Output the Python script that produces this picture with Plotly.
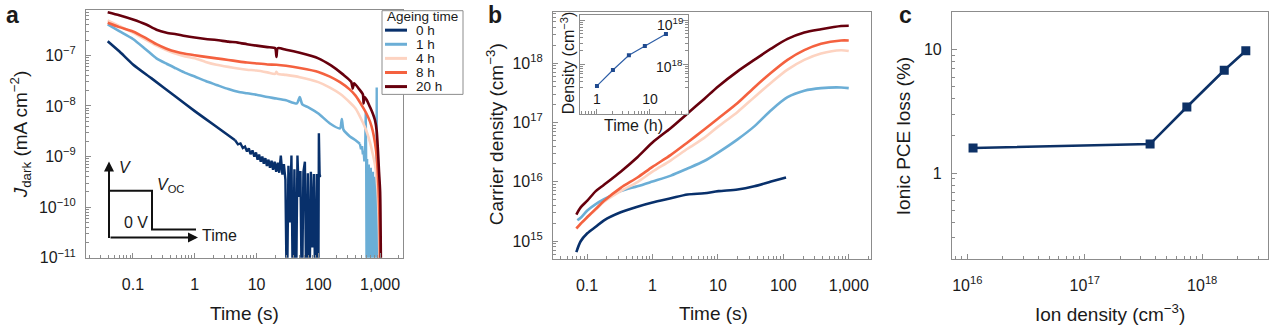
import plotly.graph_objects as go

W, H = 1269, 333

AGEING = ["0 h", "1 h", "4 h", "8 h", "20 h"]
COLORS = ["#08306b", "#6baed6", "#fdd3c1", "#f4613f", "#67000d"]

# ---- panel a: dark current after switching from Voc to 0 V ----
ta_0h = [0.039, 0.06, 0.1, 0.2, 0.5, 1, 2, 4.5]
ja_0h = [1.9e-7, 1.2e-7, 6.6e-8, 3.5e-8, 1.5e-8, 7.9e-9, 4.3e-9, 2.1e-9]
ta_0h_noisy = [4.5, 5, 5.5, 6, 6.5, 7, 7.5, 8, 8.6, 9.2, 9.8, 10.4, 11, 11.7, 12.4, 13.1, 13.9,
               14.7, 15.6, 16.5, 17.5, 18.5, 19.6, 20.8, 22, 23.3, 24.7, 26.2, 27.7, 29.3, 31,
               32.8, 34.7, 36.7, 38.8, 41, 43.4, 45.9, 48.5, 51.3, 54.2, 57.3, 60.6, 64, 67.7,
               71.6, 75.7, 80, 84.6, 89.4, 94.5, 99.9, 102, 105, 108, 110]
ja_0h_noisy = [2.1e-9, 1.74e-9, 1.82e-9, 1.48e-9, 1.58e-9, 1.26e-9, 1.45e-9, 1.12e-9, 1.32e-9,
               1.0e-9, 1.2e-9, 8.7e-10, 1.1e-9, 7.9e-10, 1.0e-9, 7.2e-10, 9.3e-10, 6.5e-10,
               8.7e-10, 6.0e-10, 8.3e-10, 5.5e-10, 7.9e-10, 5.0e-10, 7.6e-10, 4.8e-10, 1.05e-9,
               4.4e-10, 7.1e-10, 3.5e-10, 1e-12, 6.6e-10, 5e-11, 1.05e-9, 1e-12, 5.6e-10, 1e-12,
               1.05e-9, 1.6e-10, 5.2e-10, 1e-12, 5.0e-10, 7.9e-10, 1e-12, 4.7e-10, 1e-12, 5.0e-10,
               1.6e-11, 4.5e-10, 1e-12, 4.5e-10, 1e-12, 2.9e-9, 4e-10, 4.3e-10, 4.3e-10]

ta_1h = [0.039, 0.06, 0.1, 0.16, 0.24, 0.35, 0.5, 0.7, 1, 1.5, 2.25, 3.5, 5, 7, 10, 15, 21, 30,
         45, 50, 55, 70, 100, 154, 224, 240, 255, 324, 400, 470]
ja_1h = [4.1e-7, 3.0e-7, 2.1e-7, 1.32e-7, 8.7e-8, 6.8e-8, 5.5e-8, 4.5e-8, 3.8e-8, 3.1e-8, 2.6e-8,
         2.15e-8, 1.9e-8, 1.78e-8, 1.66e-8, 1.5e-8, 1.4e-8, 1.29e-8, 1.12e-8, 1.5e-8, 1.07e-8,
         9.3e-9, 7.1e-9, 4.5e-9, 3.6e-9, 5.5e-9, 3.4e-9, 2.5e-9, 2.1e-9, 1.8e-9]
ta_1h_noisy = [470, 490, 510, 525, 540, 555, 570, 585, 595, 605, 615, 625, 635, 645, 655, 665,
               675, 690, 705, 720, 735, 750, 765, 780, 795, 810, 825, 840, 855, 870, 880, 890,
               905, 920, 940, 960, 980, 1000]
ja_1h_noisy = [1.8e-9, 1.4e-9, 1.6e-9, 1.1e-9, 1.3e-9, 8e-10, 1.1e-9, 7.5e-9, 7e-10, 1e-12,
               9e-10, 1e-12, 6e-10, 3e-11, 7e-10, 1e-12, 5e-10, 1e-12, 6e-10, 1e-11, 4e-10, 1e-12,
               5e-10, 1e-12, 3e-10, 2e-11, 4e-10, 1e-12, 2.5e-10, 1e-12, 2.3e-8, 1e-12, 2e-10,
               1e-12, 1e-10, 1e-12, 5e-11, 1e-12]

ta_4h = [0.039, 0.06, 0.1, 0.16, 0.24, 0.35, 0.5, 0.7, 1, 1.5, 2.25, 3.5, 5, 7, 10, 15, 20, 21,
         22, 30, 50, 100, 154, 224, 324, 400, 525, 600, 686, 760, 826, 880, 920, 960, 1000]
ja_4h = [4.9e-7, 3.8e-7, 2.8e-7, 2.05e-7, 1.55e-7, 1.26e-7, 1.07e-7, 9.5e-8, 8.7e-8, 7.4e-8,
         6.5e-8, 5.9e-8, 5.5e-8, 5.2e-8, 5.0e-8, 4.6e-8, 4.3e-8, 4.7e-8, 4.3e-8, 4.1e-8, 3.7e-8,
         2.95e-8, 2.3e-8, 1.74e-8, 1.17e-8, 8.9e-9, 4.7e-9, 3.2e-9, 1.9e-9, 1.12e-9, 6.8e-10,
         3.5e-10, 1.6e-10, 3.2e-11, 1e-12]

ta_8h = [0.039, 0.06, 0.1, 0.16, 0.24, 0.35, 0.5, 0.7, 1, 1.5, 2.25, 3.5, 5, 7, 10, 15, 21, 30,
         50, 100, 154, 224, 324, 400, 525, 600, 686, 760, 826, 880, 920, 960, 990, 1010]
ja_8h = [4.4e-7, 3.6e-7, 2.95e-7, 2.2e-7, 1.66e-7, 1.35e-7, 1.17e-7, 1.07e-7, 1.0e-7, 9.3e-8,
         8.7e-8, 8.1e-8, 7.6e-8, 7.2e-8, 6.9e-8, 6.6e-8, 6.5e-8, 6.2e-8, 5.6e-8, 4.7e-8, 3.8e-8,
         2.95e-8, 2.1e-8, 1.6e-8, 9.5e-9, 7.1e-9, 4.9e-9, 3.2e-9, 1.86e-9, 1.0e-9, 4.3e-10,
         1.26e-10, 2.5e-11, 1e-12]

ta_20h = [0.039, 0.06, 0.1, 0.16, 0.24, 0.35, 0.5, 0.7, 1, 1.5, 2.25, 3.5, 5, 7, 10, 15, 20, 21,
          22, 30, 50, 100, 160, 250, 340, 360, 380, 450, 525, 540, 560, 600, 686, 760, 826, 880,
          920, 960, 1000, 1040]
ja_20h = [7.1e-7, 6.2e-7, 5.1e-7, 4.1e-7, 3.2e-7, 2.8e-7, 2.6e-7, 2.4e-7, 2.24e-7, 2.1e-7, 2.0e-7,
          1.86e-7, 1.78e-7, 1.66e-7, 1.55e-7, 1.45e-7, 1.38e-7, 9.3e-8, 1.38e-7, 1.29e-7, 1.12e-7,
          8.7e-8, 6.3e-8, 4.2e-8, 3.0e-8, 2.2e-8, 2.8e-8, 2.2e-8, 1.7e-8, 1.12e-8, 1.5e-8, 1.35e-8,
          9.5e-9, 7.1e-9, 5.2e-9, 3.2e-9, 1.4e-9, 5e-10, 2e-10, 1e-12]

# ---- panel b: extracted carrier density ----
tb_0h = [0.0687, 0.08, 0.101, 0.136, 0.182, 0.327, 0.589, 1, 1.91, 3.43, 6.18, 10.2, 20, 36,
         65, 110]
nb_0h = [6.5e14, 9.9e14, 1.35e15, 1.74e15, 2.24e15, 3.06e15, 3.8e15, 4.47e15, 5.26e15, 6.1e15,
         6.4e15, 6.95e15, 7.4e15, 8.4e15, 1.01e16, 1.18e16]
tb_1h = [0.0711, 0.08, 0.101, 0.136, 0.182, 0.327, 0.589, 1, 1.91, 3.43, 6.18, 10.2, 20, 36,
         65, 116, 209, 377, 763, 1000]
nb_1h = [2.24e15, 2.47e15, 3.27e15, 4.2e15, 5.07e15, 6.95e15, 8.4e15, 1.01e16, 1.27e16, 1.67e16,
         2.24e16, 3.14e16, 5.2e16, 8.6e16, 1.61e17, 2.67e17, 3.44e17, 3.8e17, 3.9e17, 3.8e17]
tb_4h = [0.0687, 0.08, 0.101, 0.136, 0.182, 0.327, 0.589, 1, 1.91, 3.43, 6.18, 10.2, 20, 36,
         65, 116, 209, 377, 763, 1000]
nb_4h = [1.6e15, 1.93e15, 2.5e15, 3.4e15, 4.6e15, 6.95e15, 9.9e15, 1.48e16, 2.3e16, 3.6e16,
         5.5e16, 8.6e16, 1.51e17, 2.67e17, 4.7e17, 7.8e17, 1.14e18, 1.46e18, 1.66e18, 1.61e18]
tb_8h = [0.0687, 0.08, 0.101, 0.136, 0.182, 0.327, 0.589, 1, 1.91, 3.43, 6.18, 10.2, 20, 36,
         65, 116, 209, 377, 763, 1000]
nb_8h = [1.63e15, 1.97e15, 2.54e15, 3.48e15, 4.76e15, 7.9e15, 1.18e16, 1.78e16, 2.84e16, 4.6e16,
         7.6e16, 1.18e17, 2.13e17, 3.9e17, 6.9e17, 1.14e18, 1.66e18, 2.13e18, 2.42e18, 2.42e18]
tb_20h = [0.0687, 0.08, 0.101, 0.136, 0.182, 0.327, 0.589, 1, 1.91, 3.43, 6.18, 10.2, 20, 36,
          65, 116, 209, 377, 763, 1000]
nb_20h = [2.8e15, 3.7e15, 4.8e15, 6.95e15, 8.9e15, 1.48e16, 2.6e16, 4.6e16, 8.1e16, 1.42e17,
          2.5e17, 4.1e17, 7.3e17, 1.14e18, 1.76e18, 2.57e18, 3.3e18, 3.75e18, 4.25e18, 4.3e18]

# inset: final density versus ageing time
inset_hours = [1, 2, 4, 8, 20]
inset_density = [3.2e17, 7.4e17, 1.6e18, 2.6e18, 4.9e18]

# ---- panel c ----
ion_density = [1.12e16, 3.6e17, 7.4e17, 1.54e18, 2.35e18]
pce_loss = [1.6, 1.72, 3.43, 6.8, 9.8]

FONT = "Liberation Sans, Arial, Helvetica, sans-serif"
TXT = "#1a1a1a"
GRAY = "#8c8c8c"
TICK_SIZE = 16
TITLE_SIZE = 19


def fx(px):
    return px / W


def fy(py):
    return 1 - py / H


def sup(e):
    sign = "\u2212" if e < 0 else ""
    return f"10<sup>{sign}{abs(e)}</sup>"


def minor_vals(lo, hi):
    return [m * 10.0 ** e for e in range(lo, hi) for m in range(2, 10)]


def log_axis(domain, rng, tickvals, ticktext, minor, anchor, standoff, **kw):
    d = dict(
        type="log", domain=domain, range=rng, anchor=anchor,
        showline=True, linecolor=GRAY, linewidth=1.2, mirror=True,
        ticks="inside", ticklen=5, tickwidth=1, tickcolor=GRAY,
        showgrid=False, zeroline=False,
        tickmode="array", tickvals=tickvals, ticktext=ticktext,
        tickfont=dict(size=TICK_SIZE, color=TXT, family=FONT),
        ticklabelstandoff=standoff,
        minor=dict(ticks="inside", ticklen=3, tickwidth=1, tickcolor=GRAY,
                   tickmode="array", tickvals=minor, showgrid=False),
    )
    d.update(kw)
    return d


fig = go.Figure()

a_series = [
    (ta_0h, ja_0h, ta_0h_noisy, ja_0h_noisy),
    (ta_1h, ja_1h, ta_1h_noisy, ja_1h_noisy),
    (ta_4h, ja_4h, None, None),
    (ta_8h, ja_8h, None, None),
    (ta_20h, ja_20h, None, None),
]
for (t, j, tn, jn), c, name in zip(a_series, COLORS, AGEING):
    fig.add_trace(go.Scatter(x=t, y=j, mode="lines", name=name, showlegend=False,
                             line=dict(color=c, width=2.6, shape="spline", smoothing=0.6),
                             xaxis="x", yaxis="y"))
    if tn is not None:
        fig.add_trace(go.Scatter(x=tn, y=jn, mode="lines", showlegend=False,
                                 line=dict(color=c, width=2.4), xaxis="x", yaxis="y"))

b_series = [(tb_0h, nb_0h), (tb_1h, nb_1h), (tb_4h, nb_4h), (tb_8h, nb_8h), (tb_20h, nb_20h)]
for (t, n), c in zip(b_series, COLORS):
    fig.add_trace(go.Scatter(x=t, y=n, mode="lines", showlegend=False,
                             line=dict(color=c, width=2.6, shape="spline", smoothing=0.8),
                             xaxis="x2", yaxis="y2"))

fig.add_trace(go.Scatter(x=inset_hours, y=inset_density, mode="lines+markers", showlegend=False,
                         line=dict(color="#2f5fa7", width=1.2),
                         marker=dict(symbol="square", size=4, color="#1f4a8f"),
                         xaxis="x4", yaxis="y4"))

fig.add_trace(go.Scatter(x=ion_density, y=pce_loss, mode="lines+markers", showlegend=False,
                         line=dict(color="#0d3166", width=2.6),
                         marker=dict(symbol="square", size=9, color="#0d3166"),
                         xaxis="x3", yaxis="y3"))

time_vals = [0.1, 1, 10, 100, 1000]
time_text = ["0.1", "1", "10", "100", "1,000"]

layout = dict(
    width=W, height=H, margin=dict(l=0, r=0, t=0, b=0),
    paper_bgcolor="white", plot_bgcolor="white",
    font=dict(family=FONT, color=TXT),
    xaxis=log_axis([fx(86), fx(403)], [-1.76, 3.37], time_vals, time_text,
                   minor_vals(-2, 4), "y", 12),
    yaxis=log_axis([fy(265), fy(10)], [-11, -6.1], [1e-11, 1e-10, 1e-9, 1e-8, 1e-7],
                   [sup(e) for e in range(-11, -6)], minor_vals(-11, -5), "x", 6),
    xaxis2=log_axis([fx(553), fx(871)], [-1.52, 3.34], time_vals, time_text,
                    minor_vals(-2, 4), "y2", 12),
    yaxis2=log_axis([fy(266), fy(12)], [14.7, 18.87], [1e15, 1e16, 1e17, 1e18],
                    [sup(e) for e in range(15, 19)], minor_vals(14, 19), "x2", 6),
    xaxis3=log_axis([fx(952), fx(1268)], [15.87, 18.56], [1e16, 1e17, 1e18],
                    [sup(e) for e in range(16, 19)], minor_vals(15, 19), "y3", 12),
    yaxis3=log_axis([fy(266), fy(12)], [-0.693, 1.307], [1, 10], ["1", "10"],
                    minor_vals(-1, 2), "x3", 6),
    xaxis4=log_axis([fx(580), fx(688)], [-0.32, 1.717], [1, 10], ["1", "10"],
                    minor_vals(-1, 2), "y4", 2, ticklabelposition="inside"),
    yaxis4=log_axis([fy(117), fy(15)], [16.87, 19.13], [1e18, 1e19],
                    ["", ""], minor_vals(16, 20), "x4", 2,
                    side="right", showticklabels=False, mirror="allticks"),
)
layout["xaxis4"]["tickfont"] = dict(size=14, color=TXT, family=FONT)
fig.update_layout(**layout)

ann = []


def text(s, x, y, size=TITLE_SIZE, xanchor="center", yanchor="middle", angle=0):
    ann.append(dict(text=s, x=fx(x), y=fy(y), xref="paper", yref="paper",
                    xanchor=xanchor, yanchor=yanchor, textangle=angle, showarrow=False,
                    font=dict(size=size, color=TXT, family=FONT)))


# panel letters
text("<b>a</b>", 13, 15, size=23)
text("<b>b</b>", 495, 15, size=23)
text("<b>c</b>", 905, 15, size=23)

# axis titles
text("<i>J</i><sub>dark</sub> (mA cm<sup>\u22122</sup>)", 20, 138, angle=-90)
text("Time (s)", 244, 322)
text("Carrier density (cm<sup>\u22123</sup>)", 495, 138, angle=-90)
text("Time (s)", 713, 322)
text("Ionic PCE loss (%)", 903, 140, angle=-90)
text("Ion density (cm<sup>\u22123</sup>)", 1110, 322)

# inset labels
text("Density (cm<sup>\u22123</sup>)", 568, 65, size=16, angle=-90)
text("Time (h)", 633, 129, size=16)
text(sup(19), 685, 25, size=14, xanchor="right")
text(sup(18), 685, 68, size=14, xanchor="right")

# bias-step schematic
text("<i>V</i>", 117, 172, size=16, xanchor="left")
text("<i>V</i><sub>OC</sub>", 155, 191, size=16, xanchor="left")
text("0 V", 136, 229, size=16)
text("Time", 200, 242, size=16, xanchor="left")
for tip, off in [((109, 166), (0, 78)), ((198, 244), (-89, 0))]:
    ann.append(dict(x=fx(tip[0]), y=fy(tip[1]), xref="paper", yref="paper", text="",
                    showarrow=True, ax=off[0], ay=off[1], arrowhead=2, arrowsize=1,
                    arrowwidth=2, arrowcolor="#111111", standoff=0, startstandoff=0))

# legend (ageing time key)
LEG_TOP, LEG_ROW0, LEG_STEP = 11, 31, 14.5
leg_bottom = LEG_ROW0 + LEG_STEP * (len(AGEING) - 1) + 8
shapes = [
    dict(type="path", xref="paper", yref="paper",
         path=f"M {fx(109)} {fy(196)} L {fx(152)} {fy(196)} L {fx(152)} {fy(236)} L {fx(196)} {fy(236)}",
         line=dict(color="#111111", width=2)),
    dict(type="rect", xref="paper", yref="paper", x0=fx(382), x1=fx(463), y0=fy(leg_bottom),
         y1=fy(LEG_TOP), line=dict(color=GRAY, width=1), fillcolor="white", layer="above"),
]
text("Ageing time", 385, 17, size=13.5, xanchor="left")
for k, (name, c) in enumerate(zip(AGEING, COLORS)):
    yy = LEG_ROW0 + LEG_STEP * k
    shapes.append(dict(type="line", xref="paper", yref="paper", x0=fx(385), x1=fx(407),
                       y0=fy(yy), y1=fy(yy), line=dict(color=c, width=3), layer="above"))
    text(name, 414, yy, size=13.5, xanchor="left")

fig.update_layout(annotations=ann, shapes=shapes)
fig.write_html("out.html")
